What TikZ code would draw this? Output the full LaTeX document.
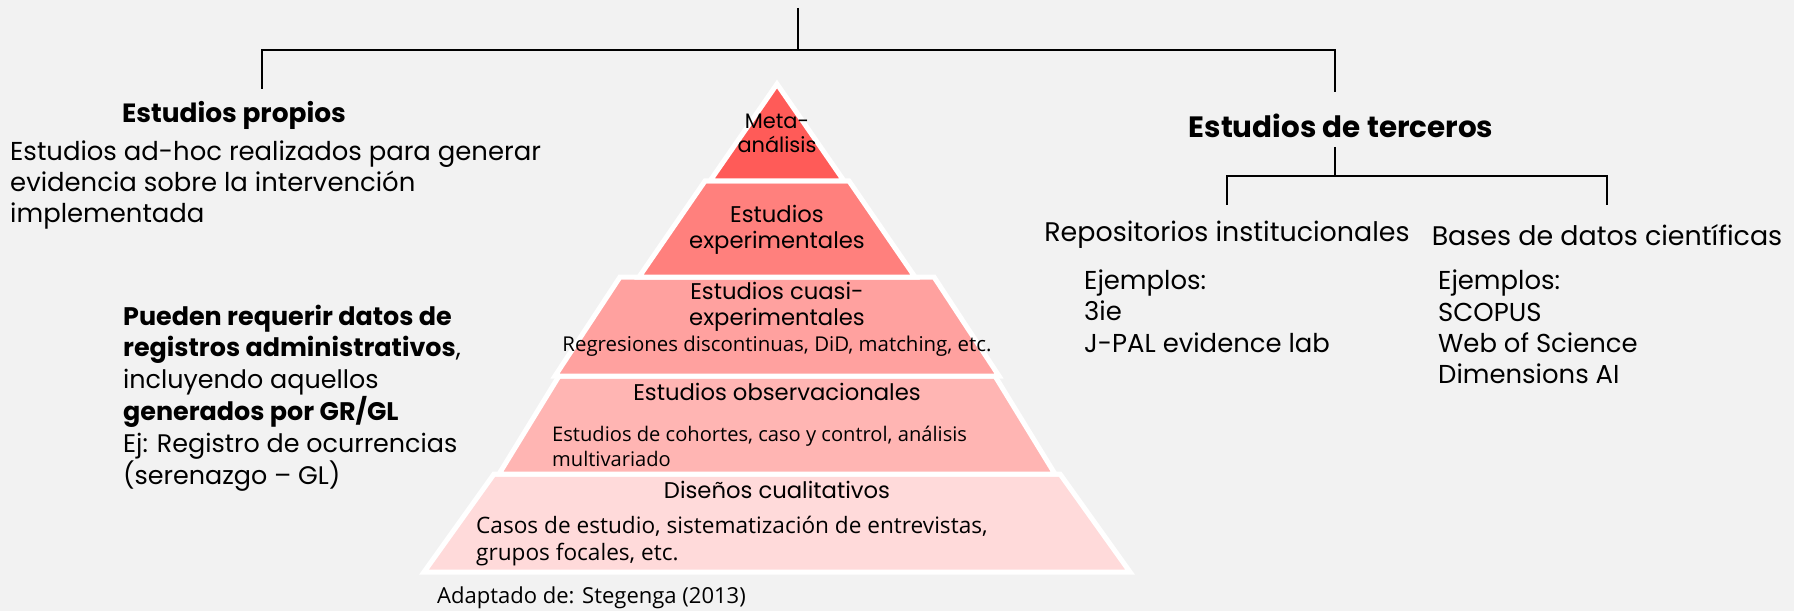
\documentclass[tikz,border=0pt]{standalone}
\usepackage{fontspec}
\setmainfont{Poppins}
\newfontfamily\aptos{Open Sans}

\definecolor{fondo}{HTML}{F2F2F2}
\definecolor{meta}{HTML}{FF5B58}
\definecolor{expe}{HTML}{FF807D}
\definecolor{cuasi}{HTML}{FFA19F}
\definecolor{obse}{HTML}{FFB5B3}
\definecolor{cuali}{HTML}{FFDADA}

\begin{document}
\begin{tikzpicture} [x = 1bp, y = -1bp]
        %style
        \tikzset{layer/.style = {draw=white, line width=5bp, line join=miter}}
        \tikzset{tree/.style = {draw=black, line width=1.7bp}}
        \tikzset{title/.style = {font=\fontsize{26.5}{30}\selectfont\bfseries, inner sep=0pt}}
        \tikzset{body/.style = {font=\fontsize{26}{31.5}\selectfont, align=left, inner sep=0pt}}
        \tikzset{level/.style = {font=\fontsize{22.8}{26.5}\selectfont, align=center, inner sep=0pt}}
        \tikzset{note/.style = {font=\aptos\fontsize{20.5}{25}\selectfont, align=left, inner sep=0pt}}
        \fill[fondo] (0,0) rectangle (1794,611);
        \useasboundingbox (0,0) rectangle (1794,611);
        % pyramid
        \filldraw[layer, fill=cuali] (494,474) -- (1060,474) -- (1130,572) -- (424,572) -- cycle;
        \filldraw[layer, fill=obse]  (559,376) -- (995,376) -- (1055,474) -- (499,474) -- cycle;
        \filldraw[layer, fill=cuasi] (620,277) -- (934,277) -- (999,376) -- (555,376) -- cycle;
        \filldraw[layer, fill=expe]  (705,181) -- (849,181) -- (915,277) -- (639,277) -- cycle;
        \filldraw[layer, fill=meta]  (777,84)  -- (844,181) -- (710,181) -- cycle;
        \node[level, font=\fontsize{21}{24}\selectfont] (meta)  at (777,133) {Meta-\\análisis};
        \node[level]                                     (expe)  at (777,230) {Estudios\\experimentales};
        \node[level]                                     (cuasi) at (777,307) {Estudios cuasi-\\experimentales};
        \node[note, align=center]                        (regr)  at (777,346) {Regresiones discontinuas, DiD, matching, etc.};
        \node[level]                                     (obse)  at (777,392) {Estudios observacionales};
        \node[note, anchor=west, font=\aptos\fontsize{20.2}{25}\selectfont] (coho) at (552,446) {Estudios de cohortes, caso y control, análisis\\multivariado};
        \node[level]                                     (cuali) at (777,490) {Diseños cualitativos};
        \node[note, anchor=west, font=\aptos\fontsize{22.7}{28}\selectfont] (casos) at (476,541) {Casos de estudio, sistematización de entrevistas,\\grupos focales, etc.};
        \node[note, anchor=west, font=\aptos\fontsize{22.1}{28}\selectfont] (fuente) at (437,598) {Adaptado de: Stegenga (2013)};
        % left branch
        \node[title]                (propios)  at (234,115) {Estudios propios};
        \node[body, anchor=west]    (adhoc)    at (10,185)  {Estudios ad-hoc realizados para generar\\evidencia sobre la intervención\\implementada};
        \node[body, anchor=west, font=\fontsize{25.5}{32}\selectfont] (admin) at (123,398) {\textbf{Pueden requerir datos de}\\\textbf{registros administrativos},\\incluyendo aquellos\\\textbf{generados por GR/GL}\\Ej: Registro de ocurrencias\\(serenazgo – GL)};
        % right branch
        \node[title, font=\fontsize{29.5}{34}\selectfont\bfseries] (terceros) at (1341,126) {Estudios de terceros};
        \node[body, font=\fontsize{27}{32}\selectfont] (repo)  at (1227,235) {Repositorios institucionales};
        \node[body, font=\fontsize{27}{32}\selectfont] (bases) at (1607,235) {Bases de datos científicas};
        \node[body, anchor=west]    (repo-ej)  at (1084,311) {Ejemplos:\\3ie\\J-PAL evidence lab};
        \node[body, anchor=west]    (bases-ej) at (1438,327) {Ejemplos:\\SCOPUS\\Web of Science\\Dimensions AI};
        % connectors
        \coordinate (top)      at (798,8);
        \coordinate (split)    at (798,50);
        \coordinate (prop-in)  at (262,89);
        \coordinate (terc-in)  at (1335,92);
        \coordinate (terc-out) at (1335,147);
        \coordinate (t-split)  at (1335,176);
        \coordinate (repo-in)  at (1227,205);
        \coordinate (bases-in) at (1607,205);
        \draw[tree] (top) -- (split) -| (prop-in);
        \draw[tree] (split) -| (terc-in);
        \draw[tree] (terc-out) -- (t-split) -| (repo-in);
        \draw[tree] (t-split) -| (bases-in);
\end{tikzpicture}
\end{document}
